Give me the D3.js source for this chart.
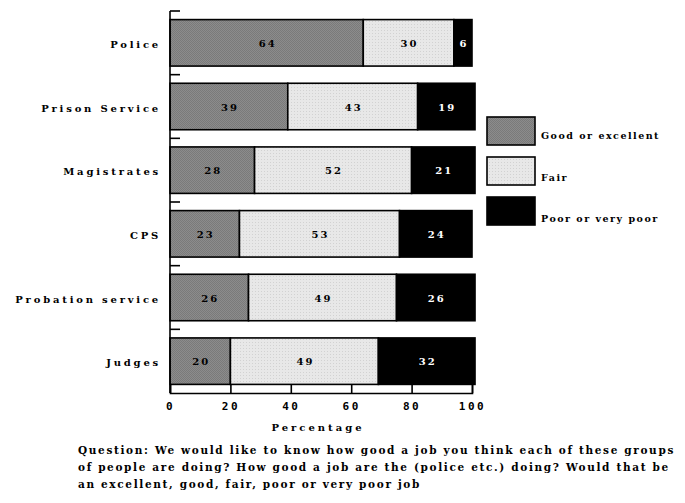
<!DOCTYPE html>
<html>
<head>
<meta charset="utf-8">
<script src="https://cdn.jsdelivr.net/npm/d3@7"></script>
<style>
  html, body { margin: 0; padding: 0; background: #fff; }
  svg { display: block; }
  text { font-family: "DejaVu Serif", serif; font-weight: bold; fill: #000; }
</style>
</head>
<body>
<svg id="chart" width="685" height="503"></svg>
<script>
// Ratings of criminal justice agencies (percentages)
const categories = ["Police", "Prison Service", "Magistrates", "CPS", "Probation service", "Judges"];
const seriesNames = ["Good or excellent", "Fair", "Poor or very poor"];
const goodValues = [64, 39, 28, 23, 26, 20];
const fairValues = [30, 43, 52, 53, 49, 49];
const poorValues = [6, 19, 21, 24, 26, 32];
const xTicks = [0, 20, 40, 60, 80, 100];
const xTitle = "Percentage";
const captionLines = [
  "Question: We would like to know how good a job you think each of these groups",
  "of people are doing? How good a job are the (police etc.) doing? Would that be",
  "an excellent, good, fair, poor or very poor job"
];

const svg = d3.select("#chart");
const defs = svg.append("defs");

// Textured fills
const pGood = defs.append("pattern").attr("id", "pat-good")
  .attr("width", 2).attr("height", 2).attr("patternUnits", "userSpaceOnUse");
pGood.append("rect").attr("width", 2).attr("height", 2).attr("fill", "#8c8c8c");
pGood.append("rect").attr("width", 1).attr("height", 1).attr("fill", "#7a7a7a");
pGood.append("rect").attr("x", 1).attr("y", 1).attr("width", 1).attr("height", 1).attr("fill", "#7a7a7a");

const pFair = defs.append("pattern").attr("id", "pat-fair")
  .attr("width", 3).attr("height", 3).attr("patternUnits", "userSpaceOnUse");
pFair.append("rect").attr("width", 3).attr("height", 3).attr("fill", "#e8e8e8");
pFair.append("rect").attr("width", 1).attr("height", 1).attr("fill", "#d2d2d2");

const fills = ["url(#pat-good)", "url(#pat-fair)", "#000"];
const labelColors = ["#000", "#000", "#fff"];

const x = d3.scaleLinear().domain([0, 100]).range([170, 472]);
const y = d3.scaleBand().domain(categories).range([11, 393])
  .paddingInner(0.27).paddingOuter(0.135);

const rows = categories.map((c, i) => {
  const vals = [goodValues[i], fairValues[i], poorValues[i]];
  let acc = 0;
  return vals.map((v, k) => {
    const seg = { cat: c, k, v, x0: acc, x1: acc + v };
    acc += v;
    return seg;
  });
}).flat();

// Bars
svg.append("g").selectAll("rect").data(rows).join("rect")
  .attr("x", d => x(d.x0))
  .attr("y", d => y(d.cat))
  .attr("width", d => x(d.x1) - x(d.x0))
  .attr("height", y.bandwidth())
  .attr("fill", d => fills[d.k])
  .attr("stroke", "#000")
  .attr("stroke-width", 1.6);

// Value labels
svg.append("g").selectAll("text").data(rows).join("text")
  .attr("x", d => (x(d.x0) + x(d.x1)) / 2 + 1)
  .attr("y", d => y(d.cat) + y.bandwidth() / 2 + 4)
  .attr("text-anchor", "middle")
  .style("font-size", "10px")
  .style("letter-spacing", "2px")
  .style("fill", d => labelColors[d.k])
  .text(d => d.v);

// Vertical axis with ticks at band boundaries
const step = y.step();
const yTop = y.range()[0];
const yBottom = y.range()[1];
const axisG = svg.append("g");
axisG.append("line")
  .attr("x1", x(0)).attr("x2", x(0))
  .attr("y1", yTop).attr("y2", yBottom)
  .attr("stroke", "#000").attr("stroke-width", 1.6);
axisG.selectAll("line.tk").data(categories).join("line").attr("class", "tk")
  .attr("x1", x(0)).attr("x2", x(0) + 10)
  .attr("y1", (d, i) => yTop + i * step).attr("y2", (d, i) => yTop + i * step)
  .attr("stroke", "#000").attr("stroke-width", 1.6);

// Category labels
svg.append("g").selectAll("text").data(categories).join("text")
  .attr("x", 161)
  .attr("y", d => y(d) + y.bandwidth() / 2 + 5)
  .attr("text-anchor", "end")
  .style("font-size", "10px")
  .style("letter-spacing", "2.8px")
  .text(d => d);

// Horizontal axis
const xAxis = d3.axisBottom(x).tickValues(xTicks).tickSize(-8).tickPadding(9);
const xg = svg.append("g").attr("transform", `translate(0,${yBottom})`).call(xAxis);
xg.select(".domain").attr("stroke-width", 1.6);
xg.selectAll(".tick line").attr("stroke-width", 1.6);
xg.selectAll(".tick text")
  .style("font-family", "'DejaVu Sans Mono', monospace")
  .style("font-weight", "bold")
  .style("font-size", "11px")
  .style("letter-spacing", "2.5px");

svg.append("text")
  .attr("x", (x(0) + x(100)) / 2 - 3)
  .attr("y", 431)
  .attr("text-anchor", "middle")
  .style("font-size", "10px")
  .style("letter-spacing", "3px")
  .text(xTitle);

// Legend
const legend = svg.append("g");
seriesNames.forEach((name, k) => {
  const top = 117 + k * 40;
  legend.append("rect")
    .attr("x", 487).attr("y", top)
    .attr("width", 48).attr("height", 28)
    .attr("fill", fills[k]).attr("stroke", "#000").attr("stroke-width", 1.6);
  legend.append("text")
    .attr("x", 541).attr("y", top + 22 + k * 1.5)
    .style("font-size", "9.5px")
    .style("letter-spacing", "1.5px")
    .text(name);
});

// Question caption
svg.append("g").selectAll("text").data(captionLines).join("text")
  .attr("x", 78)
  .attr("y", (d, i) => 454 + i * 17)
  .style("font-size", "10.5px")
  .style("letter-spacing", "1.65px")
  .text(d => d);
</script>
</body>
</html>
